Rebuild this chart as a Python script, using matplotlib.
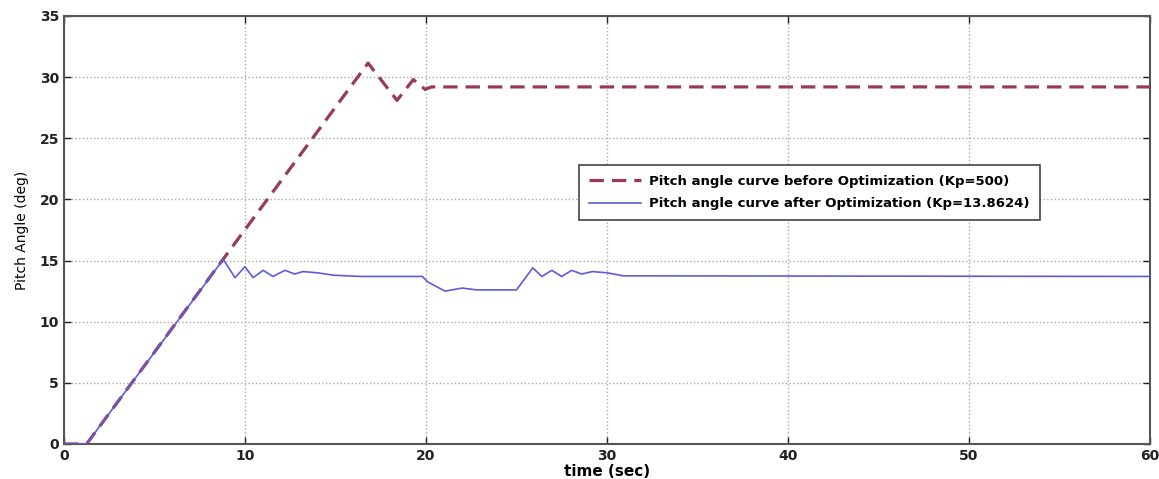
import matplotlib.pyplot as plt

# pitch angle response, before optimization (Kp=500)
t_before = [0, 1.25, 16.8, 18.4, 19.3, 19.95, 20.3, 60]
pitch_before = [0, 0, 31.15, 28.1, 29.8, 29.0, 29.2, 29.2]

# pitch angle response, after optimization (Kp=13.8624)
t_after = [0, 1.25, 8.8, 9.45, 10.0, 10.45, 11.0, 11.55, 12.2, 12.75, 13.2, 14.0,
           14.9, 16.4, 19.8, 20.1, 21.05, 22.0, 22.8, 25.0, 25.9, 26.4, 26.95,
           27.5, 28.05, 28.6, 29.2, 30.0, 30.9, 60]
pitch_after = [0, 0, 15.1, 13.6, 14.5, 13.6, 14.2, 13.7, 14.2, 13.9, 14.1, 14.0,
               13.8, 13.7, 13.7, 13.25, 12.5, 12.75, 12.6, 12.6, 14.4, 13.7, 14.2,
               13.7, 14.2, 13.9, 14.1, 14.0, 13.75, 13.7]

x_ticks = [0, 10, 20, 30, 40, 50, 60]
y_ticks = [0, 5, 10, 15, 20, 25, 30, 35]

fig = plt.figure(figsize=(11.59, 4.79), dpi=100)
ax = fig.add_axes([0.0552, 0.0731, 0.937, 0.8935])

ax.plot(t_before, pitch_before, color='#9a3a52', lw=2.3, ls=(0, (4.5, 2.5)),
        label='Pitch angle curve before Optimization (Kp=500)', zorder=3)
ax.plot(t_after, pitch_after, color='#5c5cdc', lw=1.2,
        label='Pitch angle curve after Optimization (Kp=13.8624)', zorder=4)

ax.set_xlim(0, 60)
ax.set_ylim(0, 35)
ax.set_xticks(x_ticks)
ax.set_yticks(y_ticks)
ax.grid(True, color='#aaaaaa', ls=':', lw=1.0)
ax.tick_params(direction='in', top=True, right=True, length=5, width=1,
               labelsize=10, colors='#222222')
for lbl in ax.get_xticklabels() + ax.get_yticklabels():
    lbl.set_fontweight('bold')
for sp in ax.spines.values():
    sp.set_linewidth(1.5)
    sp.set_color('#555555')

ax.set_xlabel('time (sec)', fontsize=11, fontweight='bold', labelpad=1)
ax.set_ylabel('Pitch Angle (deg)', fontsize=10, labelpad=8)

leg = ax.legend(loc='upper left', bbox_to_anchor=(0.468, 0.668),
                fancybox=False, framealpha=1, edgecolor='#444444',
                prop={'weight': 'bold', 'size': 9.5},
                handlelength=4, handletextpad=0.6, borderpad=0.75,
                labelspacing=0.75)
leg.get_frame().set_linewidth(1.2)

fig.savefig('out.png', dpi=100)
